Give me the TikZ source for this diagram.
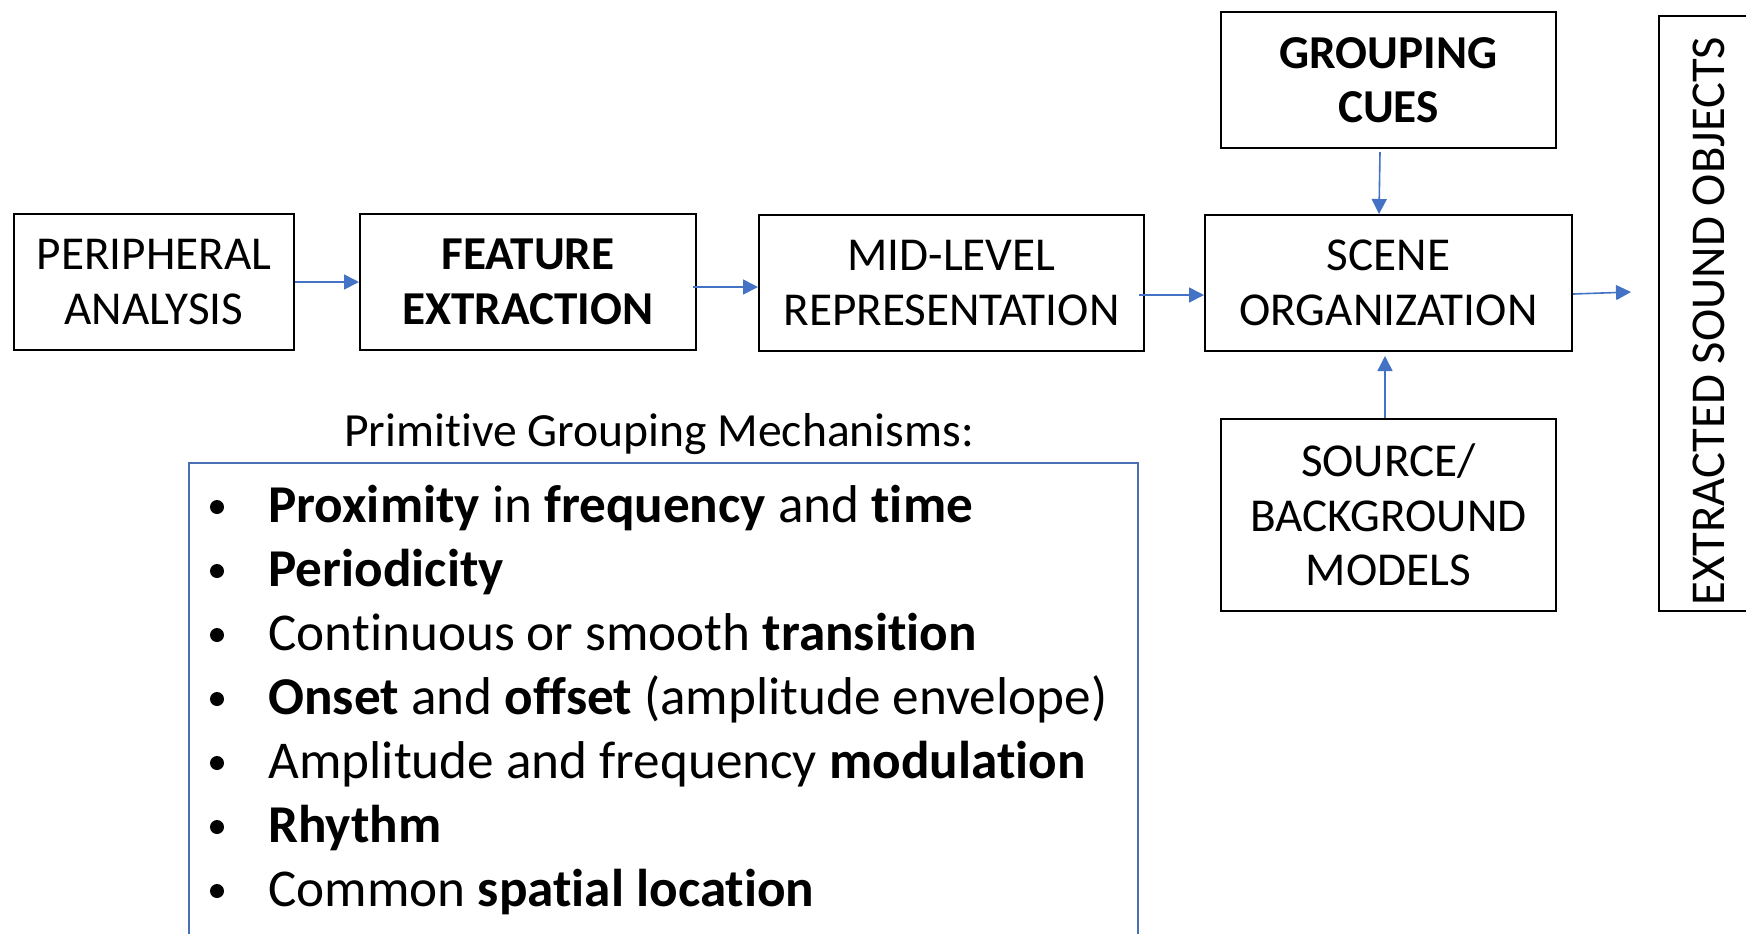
\documentclass[tikz,border=0pt]{standalone}
\usepackage{fontspec}
\setmainfont{Carlito}[RawFeature={-liga;-clig;-dlig;-calt}]
\usetikzlibrary{arrows.meta}
\definecolor{arrowblue}{HTML}{4472C4}
\definecolor{boxblue}{HTML}{4A6FB5}
\tikzset{
  blockbox/.style={draw=black, line width=1pt, rectangle, align=center, inner sep=0pt,
    font=\fontsize{23.6}{27.3}\selectfont},
  flowarrow/.style={draw=arrowblue, line width=0.8pt, -{Triangle[length=7.5pt,width=7.5pt]}},
  listitem/.style={anchor=base west, inner sep=0pt, font=\fontsize{26.6}{32}\selectfont},
  bulletmark/.style={circle, fill=black, inner sep=0pt, minimum size=7pt},
  titletext/.style={anchor=base, inner sep=0pt, font=\fontsize{23.8}{27.3}\selectfont}
}
\begin{document}
\begin{tikzpicture}[x=0.5pt,y=-0.5pt]
\useasboundingbox (0,0) rectangle (1746,933);
\clip (0,0) rectangle (1746,933);

% main blocks
\node[blockbox, minimum width=140pt, minimum height=68pt] (per) at (154,282) {PERIPHERAL\\ANALYSIS};
\node[blockbox, minimum width=168pt, minimum height=68pt] (fea) at (528,282) {\textbf{FEATURE}\\\textbf{EXTRACTION}};
\node[blockbox, minimum width=192.5pt, minimum height=68pt] (mid) at (951.5,283) {MID-LEVEL\\REPRESENTATION};
\node[blockbox, minimum width=183.5pt, minimum height=68pt] (scene) at (1388.5,283) {SCENE\\ORGANIZATION};
\node[blockbox, minimum width=167.5pt, minimum height=68pt] (cues) at (1388.5,80) {\textbf{GROUPING}\\\textbf{CUES}};
\node[blockbox, minimum width=167.5pt, minimum height=96pt] (src) at (1388.5,515) {SOURCE/\\BACKGROUND\\MODELS};
\node[blockbox, rotate=90, minimum width=297.5pt, minimum height=50pt, font=\fontsize{24.3}{28}\selectfont] (ext) at (1709,313.5) {EXTRACTED SOUND OBJECTS\hspace*{7.5pt}};

% connectors
\coordinate (extin) at (1631,292);
\draw[flowarrow] (per.east) -- (fea.west);
\draw[flowarrow] ([xshift=-2pt,yshift=-2.5pt]fea.east) -- ([yshift=-2pt]mid.west);
\draw[flowarrow] ([xshift=-3pt,yshift=-6pt]mid.east) -- ([yshift=-6pt]scene.west);
\draw[flowarrow] ([yshift=-5.5pt]scene.east) -- (extin);
\draw[flowarrow] ([xshift=-4.25pt,yshift=-1.5pt]cues.south) -- ([xshift=-4.75pt]scene.north);
\draw[flowarrow] ([xshift=-1.75pt]src.north) -- ([xshift=-1.75pt,yshift=-2pt]scene.south);

% primitive grouping mechanisms
\node[titletext] (ptitle) at (659,446) {Primitive Grouping Mechanisms:};
\node[draw=boxblue, line width=0.8pt, rectangle, inner sep=0pt, minimum width=474.5pt, minimum height=260pt, anchor=north west] (plist) at (188,462) {};

\node[bulletmark] (b1) at (217,507) {};
\node[bulletmark] (b2) at (217,571) {};
\node[bulletmark] (b3) at (217,635) {};
\node[bulletmark] (b4) at (217,699) {};
\node[bulletmark] (b5) at (217,763) {};
\node[bulletmark] (b6) at (217,827) {};
\node[bulletmark] (b7) at (217,891) {};

\node[listitem] (i1) at (268,522.5) {\textbf{Proximity} in \textbf{frequency} and \textbf{time}};
\node[listitem] (i2) at (268,586.5) {\textbf{Periodicity}};
\node[listitem] (i3) at (268,650.5) {Continuous or smooth \textbf{transition}};
\node[listitem] (i4) at (268,714.5) {\textbf{Onset} and \textbf{offset} (amplitude envelope)};
\node[listitem] (i5) at (268,778.5) {Amplitude and frequency \textbf{modulation}};
\node[listitem] (i6) at (268,842.5) {\textbf{Rhythm}};
\node[listitem] (i7) at (268,906.5) {Common \textbf{spatial location}};
\end{tikzpicture}
\end{document}
